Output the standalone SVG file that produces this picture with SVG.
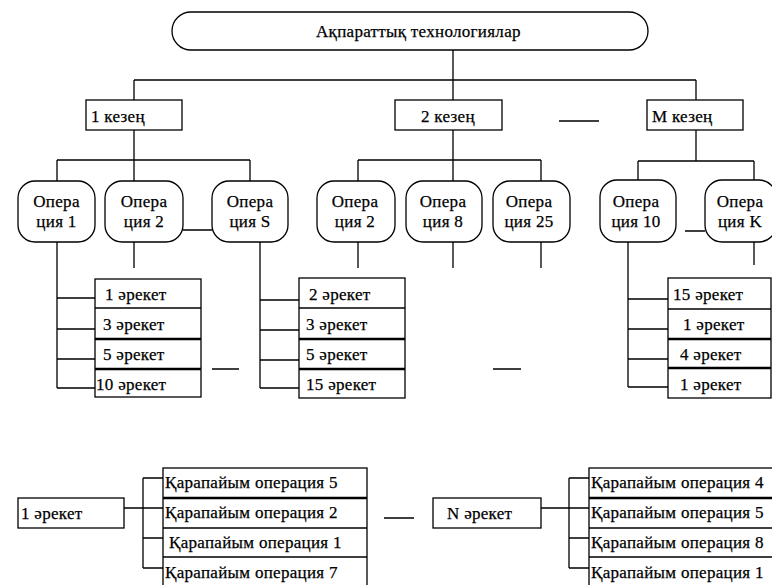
<svg xmlns="http://www.w3.org/2000/svg" width="772" height="585" viewBox="0 0 772 585">
  <style>
    text { font-family: "Liberation Serif", "DejaVu Serif", serif; font-size: 17px; letter-spacing: 0.3px; fill: #000; stroke: #000; stroke-width: 0.25; }
    .box { fill: #fff; stroke: #000; stroke-width: 1.3; }
    .op { fill: #fff; stroke: #000; stroke-width: 1.3; }
    .ln { fill: none; stroke: #000; stroke-width: 1.3; }
    .thick { stroke: #000; stroke-width: 2.4; }
    .mid { text-anchor: middle; }
  </style>
  <rect width="772" height="585" fill="#fff"/>

  <!-- connectors -->
  <g id="connectors" class="ln">
    <!-- root to stages -->
    <path d="M453 50V100 M134 80H696 M134 80V100 M696 80V100"/>
    <!-- stage 1 to its operations -->
    <path d="M134 130V160 M57 160H250 M57 160V181 M134 160V181 M250 160V181"/>
    <!-- stage 2 to its operations -->
    <path d="M453 130V160 M358 160H541 M358 160V181 M453 160V181 M541 160V181"/>
    <!-- stage M to its operations -->
    <path d="M696 130V161 M638 161H754 M638 161V180 M754 161V180"/>
    <!-- links between operations -->
    <path d="M183 230H212 M685 231H705"/>
    <!-- stubs below operations -->
    <path d="M134 242V268 M358 242V268 M453 242V268 M541 242V268 M754 242V265"/>
    <!-- operation 1 to actions -->
    <path d="M57 242V388 M57 298H95 M57 329H95 M57 359H95 M57 388H95"/>
    <!-- operation S to actions -->
    <path d="M260 242V388 M260 300H299 M260 330H299 M260 360H299 M260 388H299"/>
    <!-- operation 10 to actions -->
    <path d="M628 242V387 M628 299H668 M628 329H668 M628 359H668 M628 387H668"/>
    <!-- ellipsis dashes -->
    <path d="M559 121H599 M212 369H239 M493 369H521 M384 518H414"/>
    <!-- action 1 to simple operations -->
    <path d="M124 508H143 M143 478V568 M143 478H163 M143 508H163 M143 538H163 M143 568H163"/>
    <!-- action N to simple operations -->
    <path d="M541 508H569 M569 478V568 M569 478H589 M569 508H589 M569 538H589 M569 568H589"/>
  </g>

  <!-- root -->
  <g id="root">
    <rect x="172" y="12" width="476" height="38" rx="19" ry="19" class="op"/>
    <text x="316" y="37">Ақпараттық технологиялар</text>
  </g>

  <!-- stages -->
  <g id="stage1">
    <rect x="86" y="100" width="96" height="30" class="box"/>
    <text x="91" y="122">1 кезең</text>
  </g>
  <g id="stage2">
    <rect x="395" y="100" width="107" height="30" class="box"/>
    <text x="421" y="122">2 кезең</text>
  </g>
  <g id="stageM">
    <rect x="647" y="100" width="96" height="30" class="box"/>
    <text x="652" y="122">M кезең</text>
  </g>

  <!-- operations -->
  <g id="op1">
    <rect x="18" y="181" width="77" height="61" rx="17" class="op"/>
    <text x="56.5" y="207" class="mid">Опера</text>
    <text x="56.5" y="227" class="mid">ция 1</text>
  </g>
  <g id="op2">
    <rect x="105" y="181" width="78" height="61" rx="17" class="op"/>
    <text x="144" y="207" class="mid">Опера</text>
    <text x="144" y="227" class="mid">ция 2</text>
  </g>
  <g id="opS">
    <rect x="212" y="181" width="76" height="61" rx="17" class="op"/>
    <text x="250" y="207" class="mid">Опера</text>
    <text x="250" y="227" class="mid">ция S</text>
  </g>
  <g id="op2b">
    <rect x="317" y="181" width="78" height="61" rx="17" class="op"/>
    <text x="355" y="207" class="mid">Опера</text>
    <text x="355" y="227" class="mid">ция 2</text>
  </g>
  <g id="op8">
    <rect x="406" y="181" width="76" height="61" rx="17" class="op"/>
    <text x="443" y="207" class="mid">Опера</text>
    <text x="443" y="227" class="mid">ция 8</text>
  </g>
  <g id="op25">
    <rect x="493" y="181" width="77" height="61" rx="17" class="op"/>
    <text x="529" y="207" class="mid">Опера</text>
    <text x="529" y="227" class="mid">ция 25</text>
  </g>
  <g id="op10">
    <rect x="600" y="180" width="76" height="62" rx="17" class="op"/>
    <text x="636" y="207" class="mid">Опера</text>
    <text x="636" y="227" class="mid">ция 10</text>
  </g>
  <g id="opK">
    <rect x="705" y="180" width="71" height="62" rx="17" class="op"/>
    <text x="740" y="207" class="mid">Опера</text>
    <text x="740" y="227" class="mid">ция K</text>
  </g>

  <!-- action lists -->
  <g id="actions1">
    <rect x="95" y="279" width="106" height="118" class="box"/>
    <path d="M95 308H201" class="ln"/>
    <path d="M95 339H201 M95 369H201" class="thick"/>
    <text x="105" y="300">1 әрекет</text>
    <text x="103" y="330">3 әрекет</text>
    <text x="103" y="360">5 әрекет</text>
    <text x="96" y="390">10 әрекет</text>
  </g>
  <g id="actionsS">
    <rect x="299" y="278" width="106" height="120" class="box"/>
    <path d="M299 308H405" class="ln"/>
    <path d="M299 339H405 M299 369H405" class="thick"/>
    <text x="309" y="300">2 әрекет</text>
    <text x="306" y="330">3 әрекет</text>
    <text x="306" y="360">5 әрекет</text>
    <text x="306" y="390">15 әрекет</text>
  </g>
  <g id="actions10">
    <rect x="668" y="278" width="103" height="120" class="box"/>
    <path d="M668 309H771" class="ln"/>
    <path d="M668 339H771 M668 368H771" class="thick"/>
    <text x="673" y="300">15 әрекет</text>
    <text x="683" y="330">1 әрекет</text>
    <text x="680" y="360">4 әрекет</text>
    <text x="680" y="390">1 әрекет</text>
  </g>

  <!-- action breakdowns -->
  <g id="action1">
    <rect x="18" y="498" width="106" height="30" class="box"/>
    <text x="21" y="519">1 әрекет</text>
  </g>
  <g id="simple1">
    <rect x="163" y="468" width="204" height="122" class="box"/>
    <path d="M163 498H367" class="thick"/>
    <path d="M163 528H367 M163 557H367" class="ln"/>
    <text x="165" y="488">Қарапайым операция 5</text>
    <text x="165" y="518">Қарапайым операция 2</text>
    <text x="169" y="548">Қарапайым операция 1</text>
    <text x="165" y="578">Қарапайым операция 7</text>
  </g>
  <g id="actionN">
    <rect x="433" y="498" width="108" height="30" class="box"/>
    <text x="447" y="519">N әрекет</text>
  </g>
  <g id="simpleN">
    <rect x="589" y="468" width="186" height="122" class="box"/>
    <path d="M589 498H775" class="thick"/>
    <path d="M589 528H775 M589 557H775" class="ln"/>
    <text x="591" y="488">Қарапайым операция 4</text>
    <text x="591" y="518">Қарапайым операция 5</text>
    <text x="591" y="548">Қарапайым операция 8</text>
    <text x="591" y="578">Қарапайым операция 1</text>
  </g>
</svg>
